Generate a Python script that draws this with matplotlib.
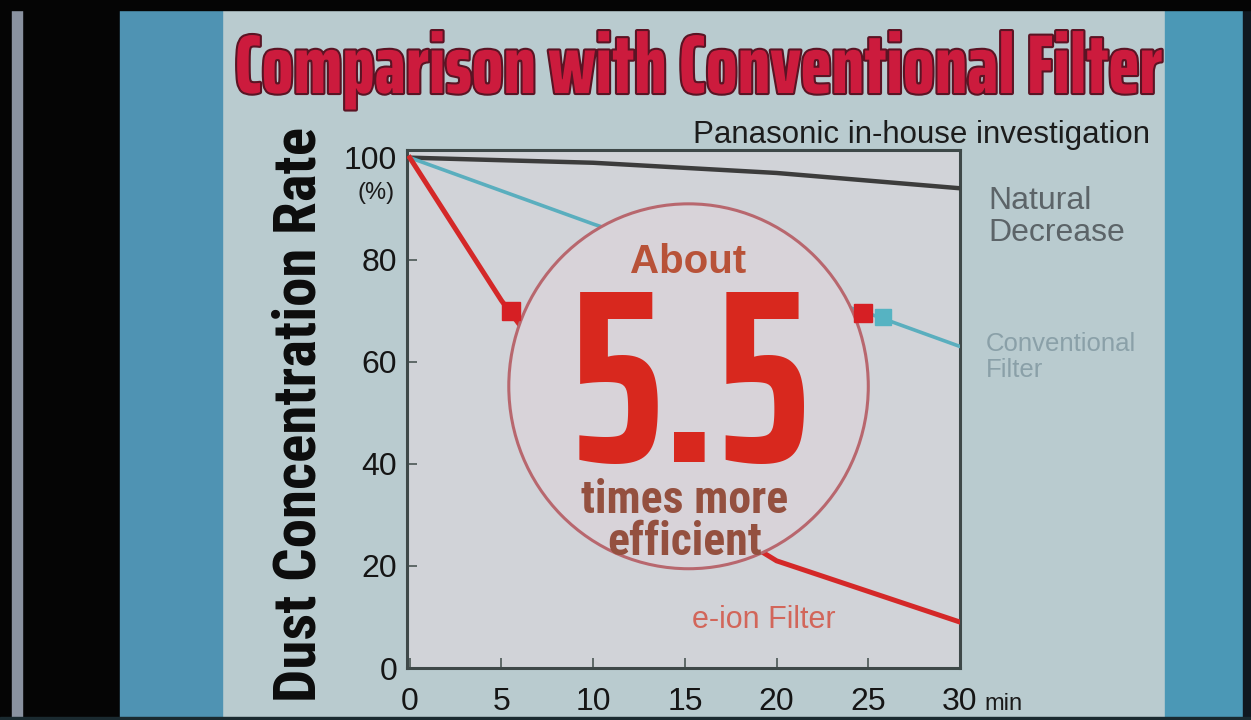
import matplotlib
matplotlib.use("Agg")
import matplotlib.pyplot as plt
from matplotlib.patches import Rectangle, Ellipse
import matplotlib.patheffects as pe

# data
minutes = [0, 5, 10, 15, 20, 25, 30]
natural = [100, 99.5, 99, 98, 97, 95.5, 94]
conventional = [100, 93.5, 87, 81, 75, 69.5, 63]
eion = [100, 72, 48, 32, 21, 15, 9]
mark_time = [5.5, 24.7]
mark_level = [70, 69.5]
conv_mark_time = [25.8]
conv_mark_level = [68.8]
yticks = [0, 20, 40, 60, 80, 100]
xticks = [0, 5, 10, 15, 20, 25, 30]

SANS = ['Liberation Sans', 'DejaVu Sans']
HEAVY_COND = ['Saira ExtraCondensed', 'Fira Sans Extra Condensed', 'DejaVu Sans']
COND = ['Roboto Condensed', 'Fira Sans Condensed', 'DejaVu Sans']

fig = plt.figure(figsize=(12.51, 7.2), dpi=100)
fig.patch.set_facecolor('#b9cbcf')

# screen surround (photo of a monitor)
fig.patches.append(Rectangle((0, 0), 120/1251, 1, transform=fig.transFigure, color='#050505', zorder=-5))
fig.patches.append(Rectangle((12/1251, 0), 10/1251, 1, transform=fig.transFigure, color='#8a92a0', zorder=-4))
fig.patches.append(Rectangle((120/1251, 0), 102/1251, 1, transform=fig.transFigure, color='#4f93b3', zorder=-5))
fig.patches.append(Rectangle((1165/1251, 0), 80/1251, 1, transform=fig.transFigure, color='#4b98b6', zorder=-5))
fig.patches.append(Rectangle((1243/1251, 0), 8/1251, 1, transform=fig.transFigure, color='#101820', zorder=-5))
fig.patches.append(Rectangle((0, 710/720), 1, 10/720, transform=fig.transFigure, color='#050505', zorder=-3))
fig.patches.append(Rectangle((0, 0), 1, 3/720, transform=fig.transFigure, color='#1a2a30', zorder=-3))

ax = fig.add_axes([407/1251, 52/720, 553/1251, 518/720])
ax.set_facecolor('#d1d3d8')

ax.plot(minutes, natural, color='#3c3c3c', lw=3.2, zorder=3)
ax.plot(minutes, conventional, color='#5aaebe', lw=2.6, zorder=3)
ax.plot(minutes, eion, color='#d42828', lw=3.6, zorder=3)

# big circle covers the middle of the plot
circ = Ellipse((15.2, 55.2), 19.6, 71.5, facecolor='#d8d3d9', edgecolor='#b8676e', lw=2.2, zorder=4)
ax.add_patch(circ)

ax.plot(mark_time, mark_level, 's', color='#d61f24', ms=13, zorder=5)
ax.plot(conv_mark_time, conv_mark_level, 's', color='#56b3c2', ms=11, zorder=5)

ax.text(15.2, 79.5, 'About', ha='center', va='center', fontsize=29, fontweight='bold',
        color='#b85238', family=SANS, zorder=6)
ax.text(15.3, 53.6, '5.5', ha='center', va='center', fontsize=178, fontweight='bold',
        color='#d8281e', family=HEAVY_COND, zorder=6)
ax.text(15.0, 28.8, 'times more\nefficient', ha='center', va='center', fontsize=33, fontweight='bold',
        color='#94503f', family=COND, linespacing=0.95, zorder=6)
ax.text(19.3, 9.5, 'e-ion Filter', ha='center', va='center', fontsize=22,
        color='#d2665a', family=SANS, zorder=6)

ax.set_xlim(-0.15, 30)
ax.set_ylim(0, 101.5)
ax.set_xticks(xticks)
ax.set_yticks(yticks)
ax.tick_params(direction='in', length=7, width=1.3, color='#55605f', labelsize=23,
               labelcolor='#151515')
ax.tick_params(axis='x', pad=14)
ax.tick_params(axis='y', pad=7)
for lab in ax.get_xticklabels() + ax.get_yticklabels():
    lab.set_family(SANS)
for s in ax.spines.values():
    s.set_color('#3e4848')
    s.set_linewidth(2.2)

ax.set_ylabel('Dust Concentration Rate', fontsize=42.5, fontweight='bold', family=COND,
              color='#0c0c0c')
ax.yaxis.set_label_coords(-0.144, 0.49)

fig.text(376/1251, 1 - 193/720, '(%)', ha='center', va='center', fontsize=17, family=SANS, color='#1a1a1a')
fig.text(1003/1251, 1 - 704/720, 'min', ha='center', va='center', fontsize=17, family=SANS, color='#1a1a1a')

fig.text(699/1251, 1 - 70/720, 'Comparison with Conventional Filter', ha='center', va='center',
         fontsize=60, fontweight='heavy', family=HEAVY_COND, color='#cc1b3d',
         path_effects=[pe.withStroke(linewidth=3, foreground='#5a1424')])
fig.text(1150/1251, 1 - 135/720, 'Panasonic in-house investigation', ha='right', va='center',
         fontsize=22.5, family=SANS, color='#1c1c1c')

fig.text(988/1251, 1 - 217/720, 'Natural\nDecrease', ha='left', va='center', fontsize=23,
         family=SANS, color='#5c6468', linespacing=1.05)
fig.text(986/1251, 1 - 357/720, 'Conventional\nFilter', ha='left', va='center', fontsize=18.5,
         family=SANS, color='#8aa0a8', linespacing=1.15)

fig.savefig('out.png', dpi=100, facecolor=fig.get_facecolor())
